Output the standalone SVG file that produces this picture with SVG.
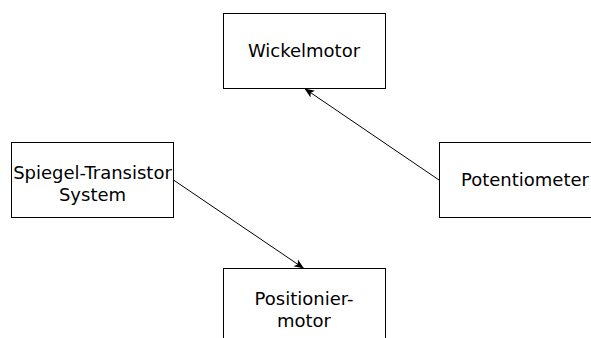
<svg xmlns="http://www.w3.org/2000/svg" width="591" height="338" viewBox="0 0 591 338">
<style>
.box{fill:#fff;stroke:#000;stroke-width:1}
.t{font-family:"DejaVu Sans",sans-serif;font-size:18px;fill:#000;text-anchor:middle}
.c{stroke:#000;stroke-width:1;fill:none;marker-end:url(#ah)}
</style>
<defs>
<marker id="ah" viewBox="0 0 10 10" refX="10" refY="5" markerWidth="10" markerHeight="10" markerUnits="userSpaceOnUse" orient="auto">
<path d="M0,1 L10,5 L0,9 L2.5,5 Z" fill="#000"/>
</marker>
</defs>
<rect width="591" height="338" fill="#fff"/>
<g id="wickelmotor"><rect class="box" x="223.5" y="13.5" width="162" height="75"/><text class="t" x="304" y="56.5">Wickelmotor</text></g>
<g id="spiegel"><rect class="box" x="11.5" y="142.5" width="162" height="75"/><text class="t" x="92.5" y="179">Spiegel-Transistor</text><text class="t" x="92.5" y="200.5">System</text></g>
<g id="potentiometer"><rect class="box" x="439.5" y="142.5" width="172" height="75"/><text class="t" x="525" y="186">Potentiometer</text></g>
<g id="positioniermotor"><rect class="box" x="223.5" y="268.5" width="162" height="75"/><text class="t" x="304" y="305">Positionier-</text><text class="t" x="304" y="326.5">motor</text></g>
<g id="connectors">
<path class="c" d="M439,180 L304.5,88.5"/>
<path class="c" d="M173.5,180 L304,268.5"/>
</g>
</svg>
